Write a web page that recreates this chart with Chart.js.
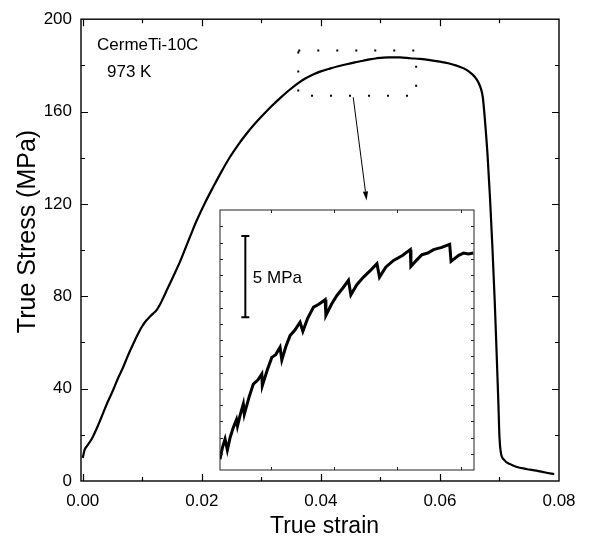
<!DOCTYPE html>
<html><head><meta charset="utf-8">
<script src="https://cdn.jsdelivr.net/npm/chart.js@4/dist/chart.umd.min.js"></script>
<style>
html,body{margin:0;padding:0;background:#fff;}
#wrap{position:relative;width:590px;height:538px;overflow:hidden;}
#main{position:absolute;left:0;top:0;width:590px;height:538px;}
#inset{position:absolute;left:219px;top:209px;width:256px;height:262px;}
</style></head><body>
<div id="wrap">
<canvas id="main" width="590" height="538"></canvas>
<canvas id="inset" width="256" height="262"></canvas>
</div>
<script>
// ---------- data ----------
const mainStrain = [0.0000,0.0003,0.0006,0.0012,0.0017,0.0026,0.0034,0.0042,0.0051,0.0059,0.0068,0.0076,0.0085,0.0092,0.0099,0.0107,0.0113,0.0118,0.0124,0.0129,0.0135,0.0141,0.0152,0.0163,0.0173,0.0183,0.0191,0.0205,0.0219,0.0233,0.0247,0.0261,0.0275,0.0289,0.0303,0.0317,0.0331,0.0345,0.0359,0.0373,0.0387,0.0401,0.0415,0.0429,0.0443,0.0457,0.0471,0.0482,0.0494,0.0513,0.0533,0.0550,0.0566,0.0583,0.0600,0.0614,0.0628,0.0640,0.0650,0.0658,0.0664,0.0669,0.0672,0.0676,0.0680,0.0684,0.0688,0.0692,0.0695,0.0698,0.0700,0.0702,0.0708,0.0718,0.0728,0.0745,0.0762,0.0777,0.0792];
const mainStress = [10.0,13.5,14.8,17.0,19.2,24.3,29.3,34.3,39.4,44.4,49.4,54.4,59.5,63.3,66.7,69.6,71.2,72.5,74.0,76.1,79.2,82.6,88.6,94.8,101.2,107.6,112.6,120.3,127.3,134.0,140.2,145.6,150.4,154.7,158.6,162.3,165.7,168.9,171.8,174.2,176.1,177.5,178.6,179.6,180.5,181.3,182.0,182.6,183.1,183.5,183.5,183.1,182.8,182.3,181.6,180.9,179.9,178.7,177.1,175.2,172.9,169.8,166.2,155.0,141.0,123.0,102.0,78.0,57.0,35.0,19.0,12.8,9.1,7.3,6.2,5.2,4.5,3.7,3.0];

const insetStrain = [0.03600,0.03620,0.03640,0.03658,0.03680,0.03705,0.03730,0.03738,0.03760,0.03784,0.03792,0.03830,0.03863,0.03900,0.03930,0.03934,0.03975,0.04009,0.04040,0.04074,0.04088,0.04120,0.04153,0.04190,0.04232,0.04254,0.04290,0.04338,0.04380,0.04430,0.04436,0.04480,0.04523,0.04570,0.04614,0.04633,0.04680,0.04733,0.04790,0.04839,0.04859,0.04910,0.04970,0.05040,0.05102,0.05107,0.05150,0.05194,0.05240,0.05286,0.05350,0.05413,0.05424,0.05484,0.05523,0.05560,0.05600];
const insetStress = [169.66,170.40,170.91,170.23,171.00,171.61,172.10,171.70,172.40,173.06,172.44,173.50,174.29,174.55,174.91,174.19,175.20,175.93,176.10,176.55,175.77,176.60,177.27,177.60,178.09,177.54,178.30,179.02,179.20,179.48,178.51,179.20,179.74,180.20,180.67,179.78,180.40,180.87,181.30,181.70,180.87,181.50,181.90,182.20,182.56,181.53,181.90,182.25,182.35,182.56,182.70,182.89,181.84,182.21,182.35,182.30,182.35];

const scaleBarStrain = [0.0380, 0.0380];
const scaleBarStress = [183.4, 178.4];

const boxStrain = [0.0362, 0.0560];
const boxStress = [166.9, 186.4];
const arrowStrain = [0.04543, 0.04768];
const arrowStress = [166.2, 121.5];

const xMajorStep = 0.02, xMinorStep = 0.01;
const yMajorStep = 40, yMinorStep = 20;

const FONT = "'Liberation Sans', Arial, Helvetica, sans-serif";
const isMult = (v, s) => Math.abs(v / s - Math.round(v / s)) < 1e-6;

// ---------- frame + inward ticks ----------
function frameTicks(opts) {
  return {
    id: 'frameTicks',
    afterDraw(chart) {
      const {ctx, chartArea: a, scales: {x, y}} = chart;
      ctx.save();
      ctx.strokeStyle = opts.color;
      ctx.lineWidth = opts.tickWidth;
      ctx.beginPath();
      x.ticks.forEach(t => {
        const px = Math.round(x.getPixelForValue(t.value)) + 0.5;
        if (px < a.left + 1.5 || px > a.right - 1.5) return;
        const len = opts.xMajor(t.value) ? opts.major : opts.minor;
        ctx.moveTo(px, a.bottom); ctx.lineTo(px, a.bottom - len);
        ctx.moveTo(px, a.top); ctx.lineTo(px, a.top + len);
      });
      y.ticks.forEach(t => {
        const py = Math.round(y.getPixelForValue(t.value)) + 0.5;
        if (py < a.top + 1.5 || py > a.bottom - 1.5) return;
        const len = opts.yMajor(t.value) ? opts.major : opts.minor;
        ctx.moveTo(a.left, py); ctx.lineTo(a.left + len, py);
        ctx.moveTo(a.right, py); ctx.lineTo(a.right - len, py);
      });
      ctx.stroke();
      ctx.lineWidth = opts.frameWidth;
      ctx.strokeRect(a.left, a.top, a.right - a.left, a.bottom - a.top);
      ctx.restore();
    }
  };
}

// ---------- annotations on main chart ----------
const annotate = {
  id: 'annotate',
  afterDraw(chart) {
    const {ctx, scales: {x, y}} = chart;
    ctx.save();
    // dotted region box
    const bx0 = x.getPixelForValue(boxStrain[0]), bx1 = x.getPixelForValue(boxStrain[1]);
    const by0 = y.getPixelForValue(boxStress[1]), by1 = y.getPixelForValue(boxStress[0]);
    ctx.strokeStyle = '#000';
    ctx.lineWidth = 2;
    ctx.setLineDash([2, 17]);
    ctx.strokeRect(bx0, by0, bx1 - bx0, by1 - by0);
    ctx.setLineDash([]);
    // arrow
    const ax0 = x.getPixelForValue(arrowStrain[0]), ay0 = y.getPixelForValue(arrowStress[0]);
    const ax1 = x.getPixelForValue(arrowStrain[1]), ay1 = y.getPixelForValue(arrowStress[1]);
    const ang = Math.atan2(ay1 - ay0, ax1 - ax0);
    const hl = 9, hw = 2.6;
    const bx = ax1 - hl * Math.cos(ang), byy = ay1 - hl * Math.sin(ang);
    ctx.lineWidth = 1;
    ctx.beginPath(); ctx.moveTo(ax0, ay0); ctx.lineTo(bx, byy); ctx.stroke();
    ctx.fillStyle = '#000';
    ctx.beginPath();
    ctx.moveTo(ax1, ay1);
    ctx.lineTo(bx + hw * Math.sin(ang), byy - hw * Math.cos(ang));
    ctx.lineTo(bx - hw * Math.sin(ang), byy + hw * Math.cos(ang));
    ctx.closePath(); ctx.fill();
    // labels
    ctx.fillStyle = '#000';
    ctx.textBaseline = 'alphabetic';
    ctx.textAlign = 'left';
    ctx.font = '17px ' + FONT;
    ctx.fillText('CermeTi-10C', 97, 50);
    ctx.fillText('973 K', 107, 77);
    // axis titles
    ctx.textAlign = 'center';
    ctx.font = '23px ' + FONT;
    ctx.fillText('True strain', 324.5, 533);
    ctx.save();
    ctx.translate(35, 231.5);
    ctx.rotate(-Math.PI / 2);
    ctx.font = '25px ' + FONT;
    ctx.fillText('True Stress (MPa)', 0, 0);
    ctx.restore();
    ctx.restore();
  }
};

new Chart(document.getElementById('main'), {
  type: 'line',
  data: {
    datasets: [{
      data: mainStrain.map((v, i) => ({x: v, y: mainStress[i]})),
      borderColor: '#000', borderWidth: 2.2, pointRadius: 0,
      cubicInterpolationMode: 'monotone', fill: false, borderJoinStyle: 'round'
    }]
  },
  options: {
    responsive: false, animation: false,
    layout: {padding: {left: 0, right: 31, top: 19, bottom: 0}, autoPadding: false},
    plugins: {legend: {display: false}, tooltip: {enabled: false}},
    scales: {
      x: {
        type: 'linear', min: -0.0003, max: 0.08,
        afterFit(s) { s.height = 57; },
        grid: {display: false, drawTicks: false}, border: {display: false},
        ticks: {stepSize: xMinorStep, includeBounds: false, autoSkip: false, maxRotation: 0,
          padding: 10, color: '#000', font: {family: FONT, size: 17},
          callback: v => isMult(v, xMajorStep) ? Number(v).toFixed(2) : ''}
      },
      y: {
        type: 'linear', min: 0, max: 200,
        afterFit(s) { s.width = 81; },
        grid: {display: false, drawTicks: false}, border: {display: false},
        ticks: {stepSize: yMinorStep, includeBounds: false, autoSkip: false,
          padding: 9, color: '#000', font: {family: FONT, size: 17},
          callback: v => isMult(v, yMajorStep) ? String(v) : ''}
      }
    }
  },
  plugins: [frameTicks({color: '#000', tickWidth: 1.2, frameWidth: 1.4, major: 7, minor: 4,
    xMajor: v => isMult(v, xMajorStep), yMajor: v => isMult(v, yMajorStep)}), annotate]
});

// ---------- inset ----------
const insetLabel = {
  id: 'insetLabel',
  beforeDraw(chart) {
    const {ctx} = chart;
    ctx.save(); ctx.fillStyle = '#fff'; ctx.fillRect(0, 0, chart.width, chart.height); ctx.restore();
  },
  afterDraw(chart) {
    const {ctx, scales: {x, y}} = chart;
    ctx.save();
    ctx.fillStyle = '#000';
    ctx.font = '17px ' + FONT;
    ctx.textBaseline = 'alphabetic';
    ctx.fillText('5 MPa', x.getPixelForValue(scaleBarStrain[0]) + 7.5, y.getPixelForValue((scaleBarStress[0] + scaleBarStress[1]) / 2) + 6);
    ctx.restore();
  }
};

new Chart(document.getElementById('inset'), {
  type: 'line',
  data: {
    datasets: [{
      data: insetStrain.map((v, i) => ({x: v, y: insetStress[i]})),
      borderColor: '#000', borderWidth: 3, pointRadius: 0, tension: 0, fill: false,
      borderJoinStyle: 'miter'
    }, {
      data: scaleBarStrain.map((v, i) => ({x: v, y: scaleBarStress[i]})),
      borderColor: '#000', borderWidth: 2, pointStyle: 'line', pointRadius: 4,
      pointBorderWidth: 2, pointBorderColor: '#000', fill: false
    }]
  },
  options: {
    responsive: false, animation: false,
    layout: {padding: 1, autoPadding: false},
    plugins: {legend: {display: false}, tooltip: {enabled: false}},
    scales: {
      x: {type: 'linear', min: 0.036, max: 0.05605, afterFit(s) { s.height = 0; },
        grid: {display: false, drawTicks: false}, border: {display: false},
        ticks: {display: false, stepSize: 0.005, includeBounds: false}},
      y: {type: 'linear', min: 169, max: 185, afterFit(s) { s.width = 0; },
        grid: {display: false, drawTicks: false}, border: {display: false},
        ticks: {display: false, stepSize: 1, includeBounds: false}}
    }
  },
  plugins: [insetLabel, frameTicks({color: '#222', tickWidth: 1, frameWidth: 1, major: 3, minor: 3,
    xMajor: () => true, yMajor: () => true})]
});
</script>
</body></html>
